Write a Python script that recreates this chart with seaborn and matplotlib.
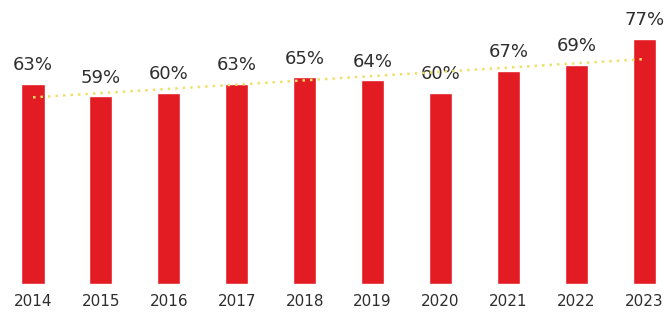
import matplotlib
matplotlib.use("Agg")
import matplotlib.pyplot as plt
import seaborn as sns
import pandas as pd
import numpy as np

years = ["2014", "2015", "2016", "2017", "2018", "2019", "2020", "2021", "2022", "2023"]
values = [63, 59, 60, 63, 65, 64, 60, 67, 69, 77]

sns.set_theme(style="white")
plt.rcParams["font.family"] = ["DejaVu Sans"]

df = pd.DataFrame({"year": years, "value": values, "idx": np.arange(len(years))})

fig = plt.figure(figsize=(6.66, 3.23), dpi=100)
ax = fig.add_axes([0, 0.121, 1, 0.879])

sns.barplot(data=df, x="year", y="value", color="#E31B23", saturation=1,
            width=0.34, ax=ax)

sns.regplot(data=df, x="idx", y="value", ci=None, scatter=False, ax=ax,
            line_kws={"color": "#EEE06A", "linestyle": (0, (1, 2.0)), "linewidth": 1.8,
                      "zorder": 5}, truncate=True)

for i, v in enumerate(values):
    ax.annotate(f"{v}%", (i, v), xytext=(0, 7), textcoords="offset points",
                ha="center", va="bottom", fontsize=13, color="#2e2e2e")

ax.set_xlim(-0.486, 9.32)
ax.set_ylim(0, 89.3)
ax.set_xlabel("")
ax.set_ylabel("")
ax.set_yticks([])
ax.tick_params(axis="x", length=0, pad=7, labelsize=11, labelcolor="#2e2e2e")
for s in ax.spines.values():
    s.set_visible(False)

fig.savefig("out.png", dpi=100)
